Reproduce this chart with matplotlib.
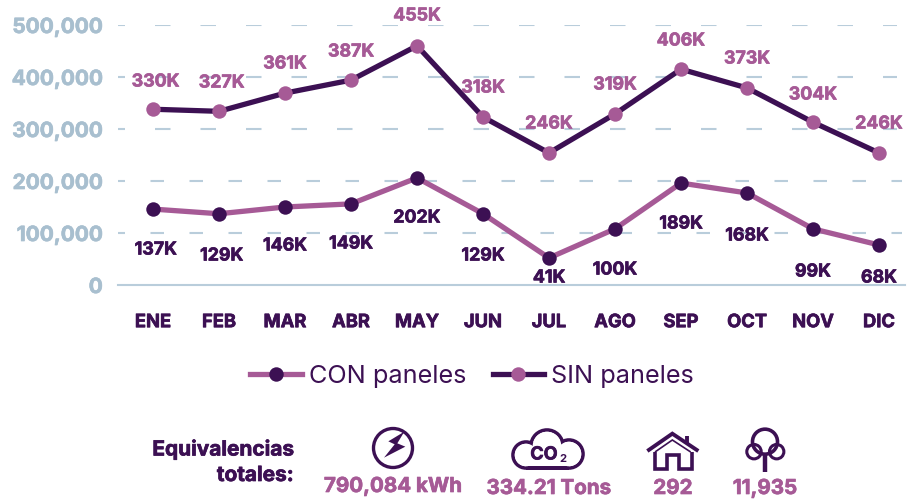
import matplotlib
matplotlib.use("Agg")
import matplotlib.pyplot as plt
import matplotlib.patheffects as pe
from matplotlib.patches import Circle, Polygon, Rectangle
from matplotlib.lines import Line2D
from matplotlib.transforms import blended_transform_factory as blend

plt.rcParams['font.family'] = ['Inter', 'DejaVu Sans']
plt.rcParams['lines.scale_dashes'] = False

months = ['ENE', 'FEB', 'MAR', 'ABR', 'MAY', 'JUN', 'JUL', 'AGO', 'SEP', 'OCT', 'NOV', 'DIC']
con_values = [146000, 137000, 150000, 156000, 206000, 137000, 52000, 108000, 196000, 177000, 108000, 77000]
sin_values = [338000, 334000, 369000, 394000, 460000, 323000, 254000, 329000, 415000, 379000, 313000, 254000]
con_labels = ['137K', '129K', '146K', '149K', '202K', '129K', '41K', '100K', '189K', '168K', '99K', '68K']
sin_labels = ['330K', '327K', '361K', '387K', '455K', '318K', '246K', '319K', '406K', '373K', '304K', '246K']
con_label_y = [250, 256, 246, 244, 218, 256, 278, 270, 224, 236, 272, 278]
sin_label_y = [82, 83, 64, 52, 16, 88, 124, 85, 41, 59, 95, 124]
yticks = [0, 100000, 200000, 300000, 400000, 500000]
equiv = ['790,084 kWh', '334.21 Tons', '292', '11,935']

DARK = '#3c1053'
PINK = '#a65a96'
GRID = '#b9cddb'
TICK = '#a8bfcf'
W, H = 922, 500
PX = 0.72  # points per pixel

fig = plt.figure(figsize=(W / 100, H / 100), dpi=100)
fig.patch.set_facecolor('white')

left, right, top, bottom = 118, 905, 25, 285
ax = fig.add_axes([left / W, 1 - bottom / H, (right - left) / W, (bottom - top) / H])
ax.set_xlim((left - 153) / 66, (right - 153) / 66)
ax.set_ylim(0, 500000)
ax.patch.set_alpha(0)
for s in ['top', 'right', 'left']:
    ax.spines[s].set_visible(False)
ax.spines['bottom'].set_color(GRID)
ax.spines['bottom'].set_linewidth(1.5)

for v in yticks[1:]:
    if v >= 300000:
        style = (8.5 * PX, (15.5 * PX, 30 * PX))
        xend = (897 - 153) / 66
    else:
        style = (6.5 * PX, (13.5 * PX, 25.5 * PX))
        xend = (902 - 153) / 66
    ax.plot([(left - 153) / 66, xend], [v, v], color=GRID, lw=1.5, linestyle=style,
            zorder=1, dash_capstyle='butt')

x = list(range(len(months)))
ax.plot(x, con_values, color=PINK, lw=3.8, marker='o', ms=10.4, mfc=DARK, mec=DARK,
        mew=0, zorder=3, clip_on=False, label='CON paneles')
ax.plot(x, sin_values, color=DARK, lw=3.8, marker='o', ms=10.4, mfc=PINK, mec=PINK,
        mew=0, zorder=3, clip_on=False, label='SIN paneles')

ax.set_xticks(x, months, fontsize=13.2, fontweight='bold', color=DARK)
ax.set_yticks(yticks, [f'{v:,}' for v in yticks], fontsize=15, fontweight='bold', color=TICK)
ax.tick_params(axis='both', length=0)
ax.tick_params(axis='x', pad=21)
ax.tick_params(axis='y', pad=11)
for t in ax.get_xticklabels():
    t.set_path_effects([pe.withStroke(linewidth=0.5, foreground=DARK)])
for t in ax.get_yticklabels():
    t.set_path_effects([pe.withStroke(linewidth=0.5, foreground=TICK)])
    t.set_y(t.get_position()[1])

ov = fig.add_axes([0, 0, 1, 1])
ov.set_xlim(0, W)
ov.set_ylim(H, 0)
ov.axis('off')
ov.patch.set_alpha(0)

tr = blend(ax.transData, ov.transData)
for labels, ys, col in [(sin_labels, sin_label_y, PINK), (con_labels, con_label_y, DARK)]:
    for i, (t, y) in enumerate(zip(labels, ys)):
        ov.text(i + (0.04 if i < 2 else 0), y, t, transform=tr, color=col, fontsize=12.8,
                fontweight='bold', ha='center', va='center', zorder=6,
                path_effects=[pe.withStroke(linewidth=0.5, foreground=col)])

h, l = ax.get_legend_handles_labels()
ov.legend(h, l, loc='center', bbox_to_anchor=(472 / W, 1 - 376 / H), bbox_transform=fig.transFigure,
          ncol=2, frameon=False, fontsize=18.2, handlelength=2.05, handletextpad=0.28,
          columnspacing=1.05, numpoints=1, labelcolor=DARK, borderpad=0)

for txt, yy in [('Equivalencias', 449), ('totales:', 475)]:
    ov.text(294, yy, txt, ha='right', va='center', color=DARK, fontsize=15, fontweight='bold',
            path_effects=[pe.withStroke(linewidth=0.5, foreground=DARK)])
for cx, cy, t in zip([393, 549, 673, 765], [487, 489, 489, 489], equiv):
    ov.text(cx, cy, t, ha='center', va='center', color=PINK, fontsize=14.8, fontweight='bold',
            path_effects=[pe.withStroke(linewidth=0.5, foreground=PINK)])

# lightning icon
ov.add_patch(Circle((393, 448), 19.5, fc='none', ec=DARK, lw=2.4))
bolt = [(x_ / 3 + 360, y_ / 3 + 420) for x_, y_ in
        [(133, 35), (85, 64), (104, 73), (72, 113), (136, 80), (112, 70)]]
ov.add_patch(Polygon(bolt, closed=True, fc=DARK, ec='none'))

# cloud icon
lobes = [(526, 455, 13), (547, 446, 16), (569, 454, 14)]
for cx, cy, r in lobes:
    ov.add_patch(Circle((cx, cy), r, fc='none', ec=DARK, lw=2.6, zorder=1))
ov.add_patch(Rectangle((526, 466), 43, 3.6, fc=DARK, ec='none', zorder=1))
for cx, cy, r in lobes:
    ov.add_patch(Circle((cx, cy), r - 1.7, fc='white', ec='none', zorder=2))
ov.add_patch(Rectangle((526, 450), 43, 16, fc='white', ec='none', zorder=2))
ov.text(544, 455, 'CO', ha='center', va='center', color=DARK, fontsize=13, fontweight='bold', zorder=3,
        path_effects=[pe.withStroke(linewidth=0.5, foreground=DARK)])
ov.text(563, 459, '2', ha='center', va='center', color=DARK, fontsize=8, fontweight='bold', zorder=3)


def pl(points, lw=2.4):
    xs = [p[0] / 3 + 630 for p in points]
    ys = [p[1] / 3 + 420 for p in points]
    ov.add_line(Line2D(xs, ys, color=DARK, lw=lw, solid_joinstyle='miter', solid_capstyle='butt'))


# house icon
pl([(52, 93), (127, 41), (205, 93)], 2.8)
pl([(75, 96), (127, 60), (182, 96)], 1.2)
pl([(75, 97), (75, 146), (110, 146), (110, 105), (148, 105), (148, 146), (185, 146), (185, 97)], 2.6)
pl([(170, 48), (170, 70)], 2.8)

# tree icon
ov.add_patch(Circle((630 + 405 / 3, 420 + 65 / 3), 12.5, fc='none', ec=DARK, lw=2.6))
ov.add_patch(Circle((630 + 372 / 3, 420 + 95 / 3), 7.2, fc='none', ec=DARK, lw=2.2))
ov.add_patch(Circle((630 + 440 / 3, 420 + 95 / 3), 7.2, fc='none', ec=DARK, lw=2.2))
pl([(405, 100), (405, 157)], 3.2)

fig.savefig('out.png', dpi=100, facecolor='white')
